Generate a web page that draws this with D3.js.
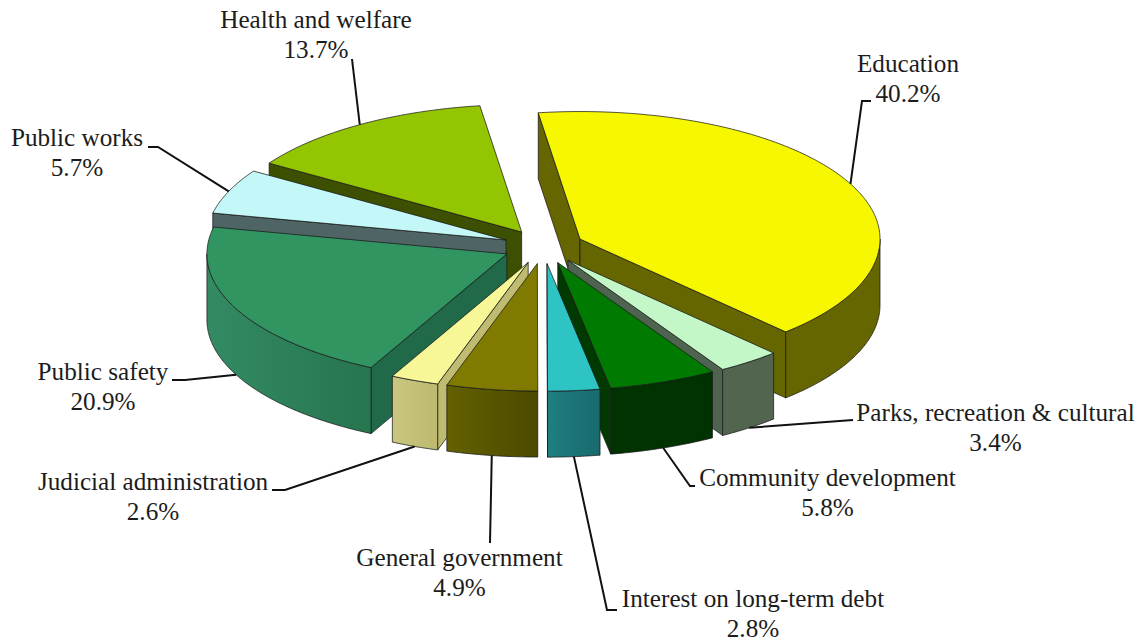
<!DOCTYPE html>
<html>
<head>
<meta charset="utf-8">
<style>
  html, body { margin: 0; padding: 0; background: #fff; }
  svg { display: block; }
  text { font-family: "Liberation Serif", "Times New Roman", serif; font-size: 25.2px; fill: #1c1c1c; text-anchor: middle; }
</style>
</head>
<body>
<svg id="chart" width="1141" height="641"></svg>
<script src="https://cdn.jsdelivr.net/npm/d3@7/dist/d3.min.js"></script>
<script>
// Share of spending by function, clockwise from the start of Education
const categories = ["Education", "Parks, recreation & cultural", "Community development",
  "Interest on long-term debt", "General government", "Judicial administration",
  "Public safety", "Public works", "Health and welfare"];
const shares = [40.2, 3.4, 5.8, 2.8, 4.9, 2.6, 20.9, 5.7, 13.7];

// Fill colours: top face, cut faces, curved wall (left and right ends of its shading)
const topColors = ["#f7f700", "#c4f7c8", "#007a00", "#2ec4c4", "#807a00", "#f7f797", "#319562", "#c4f7f7", "#93c500"];
const cutColors = ["#666600", "#4f6450", "#003a00", "#0f5050", "#4d4a00", "#bfbb70", "#206a4a", "#4f6464", "#3d4f00"];
const wallLeft  = ["#666600", "#52664f", "#003300", "#207f7f", "#636100", "#cac67f", "#338b63", "#4f6464", "#3d4f00"];
const wallRight = ["#666600", "#52664f", "#003300", "#186a6e", "#4c4900", "#bdb970", "#26754f", "#4f6464", "#3d4f00"];

// Label placement: centre x, first baseline, and the elbow of each leader line
const labelX = [908, 995.5, 827.5, 753, 459.5, 153, 103, 77, 316];
const labelY = [72, 421, 486, 607, 566, 490, 380, 146, 28];
const labelLineGap = 30;
const leaderElbows = [
  [[862, 101], [871, 101]],
  [[853, 420]],
  [[690, 486], [695, 486]],
  [[607, 610], [617, 610]],
  [[490, 543]],
  [[285, 490], [272, 490]],
  [[185, 380], [172, 380]],
  [[158, 147], [148, 147]],
  [[352, 59]]
];

// Tilted pie geometry
const cx = 543.5, cy = 246.5, rx = 300, ry = 127.5, depth = 66, explode = 0.135;
const firstAngle = -8.0 * Math.PI / 180;

const svg = d3.select("#chart");
const defs = svg.append("defs");
const scaleX = d3.scaleLinear().domain([-1, 1]).range([-rx, rx]);
const scaleY = d3.scaleLinear().domain([-1, 1]).range([-ry, ry]);
const path = d3.line();

const arcs = d3.pie().sort(null).startAngle(firstAngle).endAngle(firstAngle + 2 * Math.PI)(shares)
  .map((a, i) => {
    const mid = (a.startAngle + a.endAngle) / 2;
    return {
      i,
      start: a.startAngle,
      end: a.endAngle,
      mid,
      apexX: cx + explode * scaleX(Math.sin(mid)),
      apexY: cy - explode * scaleY(Math.cos(mid))
    };
  });

const rim = (s, angle, drop = 0) => [
  s.apexX + scaleX(Math.sin(angle)),
  s.apexY - scaleY(Math.cos(angle)) + drop
];
const arcPoints = (s, from, to, drop = 0) => {
  const steps = Math.max(2, Math.ceil((to - from) / 0.01));
  return d3.range(steps + 1).map(k => rim(s, from + (to - from) * k / steps, drop));
};
const cutFace = (s, angle) => [
  [s.apexX, s.apexY], rim(s, angle), rim(s, angle, depth), [s.apexX, s.apexY + depth]
];

const edge = "#1a1a1a";
const stroked = sel => sel.attr("stroke", edge).attr("stroke-opacity", 0.75)
  .attr("stroke-width", 1).attr("stroke-linejoin", "round");

// Paint back to front so nearer slices cover the walls of those behind them
const order = arcs.slice().sort((a, b) => Math.cos(b.mid) - Math.cos(a.mid));
const slices = svg.append("g").selectAll("g").data(order).join("g");

slices.each(function (s) {
  const g = d3.select(this);

  // Cut faces that turn toward the viewer
  if (Math.sin(s.start) < 0) {
    g.append("path").attr("d", path(cutFace(s, s.start)) + "Z").attr("fill", cutColors[s.i]).call(stroked);
  }
  if (Math.sin(s.end) > 0) {
    g.append("path").attr("d", path(cutFace(s, s.end)) + "Z").attr("fill", cutColors[s.i]).call(stroked);
  }

  // Curved outer wall on the near half of the ellipse
  const from = Math.max(s.start, Math.PI / 2);
  const to = Math.min(s.end, 3 * Math.PI / 2);
  if (to > from) {
    const upper = arcPoints(s, from, to);
    const lower = arcPoints(s, from, to, depth).reverse();
    const xs = d3.extent(upper, p => p[0]);
    const id = "wall" + s.i;
    const grad = defs.append("linearGradient").attr("id", id)
      .attr("gradientUnits", "userSpaceOnUse")
      .attr("x1", xs[0]).attr("x2", xs[1]).attr("y1", 0).attr("y2", 0);
    grad.append("stop").attr("offset", 0).attr("stop-color", wallLeft[s.i]);
    grad.append("stop").attr("offset", 1).attr("stop-color", wallRight[s.i]);
    g.append("path").attr("d", path(upper.concat(lower)) + "Z").attr("fill", `url(#${id})`).call(stroked);
  }

  // Top face
  const top = [[s.apexX, s.apexY]].concat(arcPoints(s, s.start, s.end));
  g.append("path").attr("d", path(top) + "Z").attr("fill", topColors[s.i]).call(stroked);
});

// Leader lines start at the middle of each slice's visible rim
svg.append("g").selectAll("path").data(arcs).join("path")
  .attr("d", s => {
    const drop = Math.cos(s.mid) < 0 ? depth : 0;
    return path([rim(s, s.mid, drop)].concat(leaderElbows[s.i]));
  })
  .attr("fill", "none").attr("stroke", "#111").attr("stroke-width", 2);

// Two-line labels: category name, then its share
const labels = svg.append("g").selectAll("text").data(arcs).join("text")
  .attr("x", s => labelX[s.i]).attr("y", s => labelY[s.i]);
labels.append("tspan").text(s => categories[s.i]);
labels.append("tspan").attr("x", s => labelX[s.i]).attr("dy", labelLineGap)
  .text(s => d3.format(".1f")(shares[s.i]) + "%");
</script>
</body>
</html>
